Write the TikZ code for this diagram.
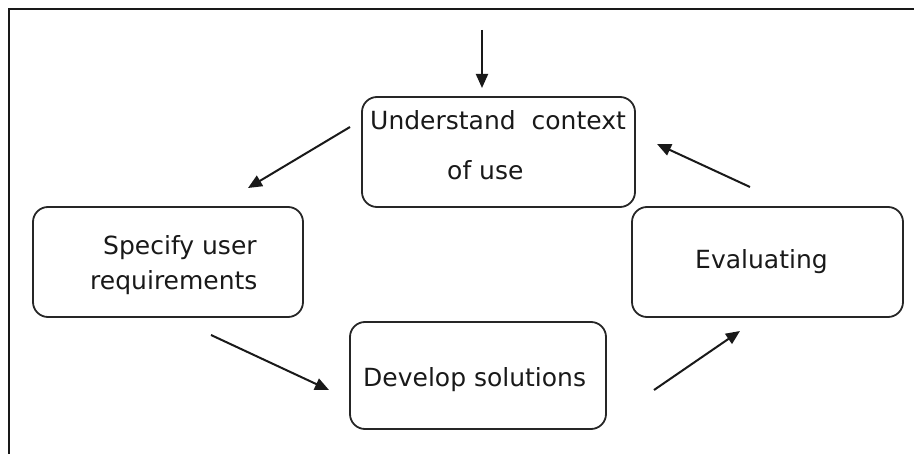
\documentclass[tikz,border=0pt]{standalone}
\usepackage{fontspec}
\setmainfont{DejaVu Sans}
\usetikzlibrary{arrows.meta}
\begin{document}
\begin{tikzpicture}[x=1pt,y=-1pt,
  stage/.style={draw=black!85, line width=1.8pt, rounded corners=15pt, inner sep=0pt, rectangle},
  lbl/.style={font=\fontsize{25}{30}\selectfont, text=black!90, inner sep=0pt, anchor=base west},
  flow/.style={line width=2pt, black!90, -{Triangle[length=14pt,width=12pt]}}]
\useasboundingbox (0,0) rectangle (914,454);
\draw[line width=2.2pt, black!90] (9,460) -- (9,9) -- (920,9);
% stages
\node[stage, minimum width=273pt, minimum height=110pt] (ctx) at (498.5,152) {};
\node[stage, minimum width=270pt, minimum height=110pt] (req) at (168,262) {};
\node[stage, minimum width=271pt, minimum height=110pt] (eval) at (767.5,262) {};
\node[stage, minimum width=256pt, minimum height=107pt] (dev) at (478,375.5) {};
% labels
\node[lbl] (ctx1) at (370,130) {Understand\ \ context};
\node[lbl] (ctx2) at (447,180) {of use};
\node[lbl] (req1) at (103,255) {Specify user};
\node[lbl] (req2) at (90,290) {requirements};
\node[lbl] (eval1) at (695,269) {Evaluating};
\node[lbl] (dev1) at (363,387) {Develop solutions};
% arrow ends
\coordinate (inS) at (482,30);
\coordinate (inE) at (482,88);
\coordinate (a1S) at (350,127);
\coordinate (a1E) at (248,188);
\coordinate (a2S) at (211,335);
\coordinate (a2E) at (329,390);
\coordinate (a3S) at (654,390);
\coordinate (a3E) at (740,331);
\coordinate (a4S) at (750,187);
\coordinate (a4E) at (657,144);
\draw[flow] (inS) -- (inE);
\draw[flow] (a1S) -- (a1E);
\draw[flow] (a2S) -- (a2E);
\draw[flow] (a3S) -- (a3E);
\draw[flow] (a4S) -- (a4E);
\end{tikzpicture}
\end{document}
